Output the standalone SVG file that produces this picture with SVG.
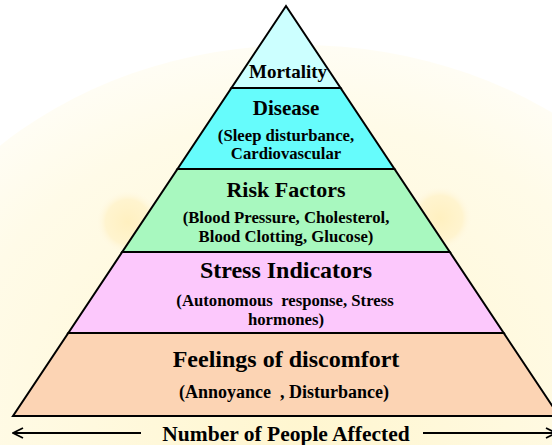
<svg xmlns="http://www.w3.org/2000/svg" width="552" height="445" viewBox="0 0 552 445">
  <defs>
    <radialGradient id="glow" cx="0.5" cy="0.5" r="0.5">
      <stop offset="0" stop-color="#fff6d0"/>
      <stop offset="0.8" stop-color="#fffbe8"/>
      <stop offset="1" stop-color="#fffdf4"/>
    </radialGradient>
    <radialGradient id="spot" cx="0.5" cy="0.5" r="0.5">
      <stop offset="0" stop-color="#fff0c0"/>
      <stop offset="0.7" stop-color="#fff4cf"/>
      <stop offset="1" stop-color="#fff9e6" stop-opacity="0"/>
    </radialGradient>
    <marker id="arrow" viewBox="0 0 12 12" refX="11" refY="6" markerWidth="12" markerHeight="12" markerUnits="userSpaceOnUse" orient="auto">
      <path d="M1,1 L11,6 L1,11" fill="none" stroke="#000" stroke-width="1.8"/>
    </marker>
    <style>
      .band { stroke: #000; stroke-width: 2; stroke-linejoin: miter; }
      .title { font-family: "Liberation Serif", "Times New Roman", serif; font-weight: bold; font-size: 22px; text-anchor: middle; fill: #000; }
      .sub { font-family: "Liberation Serif", "Times New Roman", serif; font-weight: bold; font-size: 16.7px; text-anchor: middle; fill: #000; }
      .axis { stroke: #000; stroke-width: 2; fill: none; }
    </style>
  </defs>

  <!-- backdrop -->
  <rect x="0" y="0" width="552" height="445" fill="#ffffff"/>
  <ellipse cx="300" cy="420" rx="440" ry="375" fill="url(#glow)"/>
  <circle cx="128" cy="222" r="32" fill="url(#spot)"/>
  <circle cx="440" cy="218" r="32" fill="url(#spot)"/>

  <!-- pyramid levels, top to bottom -->
  <g id="mortality">
    <polygon class="band" points="286,6 340.6,88 231.4,88" fill="#ccffff"/>
    <text class="title" x="288" y="78" style="font-size:19px">Mortality</text>
  </g>
  <g id="disease">
    <polygon class="band" points="231.4,88 340.6,88 394.5,169 177.5,169" fill="#66fcfc"/>
    <text class="title" x="286" y="115" style="font-size:21px">Disease</text>
    <text class="sub" y="141"><tspan x="286">(Sleep disturbance,</tspan><tspan x="286" dy="18">Cardiovascular</tspan></text>
  </g>
  <g id="risk-factors">
    <polygon class="band" points="177.5,169 394.5,169 449.8,252 122.2,252" fill="#a8f8bf"/>
    <text class="title" x="286" y="197">Risk Factors</text>
    <text class="sub" y="223"><tspan x="286">(Blood Pressure, Cholesterol,</tspan><tspan x="286" dy="19">Blood Clotting, Glucose)</tspan></text>
  </g>
  <g id="stress-indicators">
    <polygon class="band" points="122.2,252 449.8,252 503.7,333 68.3,333" fill="#fcc8fc"/>
    <text class="title" x="286" y="278" style="font-size:24px">Stress Indicators</text>
    <text class="sub" y="306" xml:space="preserve"><tspan x="285">(Autonomous  response, Stress</tspan><tspan x="286" dy="18.5">hormones)</tspan></text>
  </g>
  <g id="feelings-of-discomfort">
    <polygon class="band" points="68.3,333 503.7,333 559,416 13,416" fill="#fcd4b4"/>
    <text class="title" x="286" y="367" style="font-size:24px">Feelings of discomfort</text>
    <text class="sub" x="284" y="398" xml:space="preserve" style="font-size:18px">(Annoyance  , Disturbance)</text>
  </g>

  <!-- axis -->
  <g id="connectors">
    <line class="axis" x1="141" y1="433" x2="13" y2="433" marker-end="url(#arrow)"/>
    <line class="axis" x1="423" y1="433" x2="556" y2="433" marker-end="url(#arrow)"/>
  </g>
  <text class="title" x="286" y="441" style="font-size:21.5px">Number of People Affected</text>
</svg>
